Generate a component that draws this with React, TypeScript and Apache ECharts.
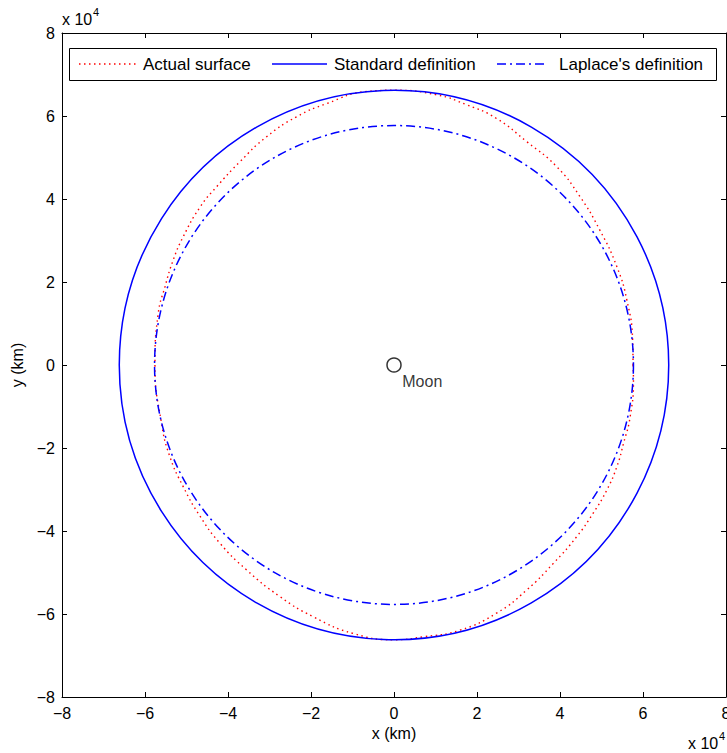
import React, { useEffect, useRef } from "react";
import * as echarts from "echarts";

// Axis range (km), shown in units of 10^4 km
const AXIS_MIN = -80000;
const AXIS_MAX = 80000;
const AXIS_STEP = 20000;
const AXIS_SCALE = 1e4;

// Sphere-of-influence radii (km)
const STANDARD_RADIUS_KM = 66200;
const LAPLACE_RADIUS_KM = 57700;

// Moon position (km)
const MOON_POS: [number, number] = [0, 0];

// Actual zero-velocity surface, traced counter-clockwise from +x (km)
const surfaceX = [
  57600, 57500, 56100, 53700, 49600, 44800, 39200, 32000, 24700, 17500, 10300, 0,
  -6600, -16200, -23500, -30700, -37100, -42700, -46700, -50800, -53200, -55200, -56800, -57600,
  -56000, -54000, -50800, -46700, -41900, -35500, -27500, -19400, -9800, 0,
  7100, 15900, 24700, 32000, 38400, 44000, 48000, 51300, 53700, 55300, 56900, 57700, 57600,
];
const surfaceY = [
  0, 6000, 15700, 23700, 32500, 40600, 47800, 53800, 59400, 62700, 65100, 66200,
  65900, 63000, 59800, 55000, 49000, 43000, 38100, 30900, 25300, 18800, 12500, 0,
  -14100, -22100, -29300, -36500, -43000, -49400, -55800, -60700, -64700, -66200,
  -65500, -63900, -59800, -54200, -47800, -41400, -35700, -30100, -24500, -18900, -12500, -3600, 0,
];

const SERIES_NAMES = ["Actual surface", "Standard definition", "Laplace's definition"];
const MOON_LABEL = "Moon";
const X_NAME = "x (km)";
const Y_NAME = "y (km)";
const EXP_BASE = "x 10";
const EXP_POWER = "4";

const FONT = '"Liberation Sans", Arial, Helvetica, sans-serif';
const RED = "#ff0000";
const BLUE = "#0000ff";
const DOTTED = [1.5, 3.5];
const DASH_DOT = [9, 4, 2, 4];

const tickFormatter = (v: number) => {
  const n = Math.round(v / AXIS_SCALE);
  return n < 0 ? "\u2212" + Math.abs(n) : String(n);
};

const circleRenderer = (stroke: string, lineDash?: number[]) => (params: any, api: any) => {
  const c = api.coord([api.value(0), api.value(1)]);
  const r = api.size([api.value(2), 0])[0];
  return {
    type: "circle",
    shape: { cx: c[0], cy: c[1], r },
    style: { fill: "none", stroke, lineWidth: 1.5, lineDash: lineDash || null },
  };
};

export default function App() {
  const ref = useRef<HTMLDivElement>(null);

  useEffect(() => {
    if (!ref.current) return;
    const chart = echarts.init(ref.current, undefined, { renderer: "svg" });

    const baseAxis = {
      type: "value" as const,
      min: AXIS_MIN,
      max: AXIS_MAX,
      interval: AXIS_STEP,
      splitLine: { show: false },
      axisLine: { show: true, onZero: false, lineStyle: { color: "#000", width: 1 } },
      axisTick: { show: true, inside: true, length: 5, lineStyle: { color: "#000", width: 1 } },
    };
    const labelStyle = { color: "#000", fontSize: 16, fontFamily: FONT, formatter: tickFormatter };
    const nameStyle = { color: "#000", fontSize: 16, fontFamily: FONT };

    const legendY = 64;
    const legendFont = 17;
    const legendItems = [
      { x1: 79, x2: 136, tx: 143, stroke: RED, dash: DOTTED, name: SERIES_NAMES[0] },
      { x1: 272, x2: 327, tx: 334, stroke: BLUE, dash: null, name: SERIES_NAMES[1] },
      { x1: 497, x2: 548, tx: 559, stroke: BLUE, dash: DASH_DOT, name: SERIES_NAMES[2] },
    ];

    chart.setOption({
      animation: false,
      backgroundColor: "#fff",
      grid: { left: 62, right: 1, top: 33, bottom: 56, containLabel: false, outerBoundsMode: "none" },
      xAxis: [
        {
          ...baseAxis,
          position: "bottom",
          axisLabel: { ...labelStyle, margin: 8 },
          name: X_NAME,
          nameLocation: "middle",
          nameGap: 28,
          nameTextStyle: nameStyle,
        },
        { ...baseAxis, position: "top", axisLabel: { show: false } },
      ],
      yAxis: [
        {
          ...baseAxis,
          position: "left",
          axisLabel: { ...labelStyle, margin: 7 },
          name: Y_NAME,
          nameLocation: "middle",
          nameGap: 34,
          nameRotate: 90,
          nameTextStyle: nameStyle,
        },
        { ...baseAxis, position: "right", axisLabel: { show: false } },
      ],
      series: [
        {
          type: "line",
          name: SERIES_NAMES[0],
          data: surfaceX.map((x, i) => [x, surfaceY[i]]),
          symbol: "none",
          smooth: 0.5,
          lineStyle: { color: RED, width: 1.4, type: DOTTED },
          z: 2,
        },
        {
          type: "custom",
          name: SERIES_NAMES[1],
          data: [[MOON_POS[0], MOON_POS[1], STANDARD_RADIUS_KM]],
          renderItem: circleRenderer(BLUE),
          clip: false,
          z: 3,
        },
        {
          type: "custom",
          name: SERIES_NAMES[2],
          data: [[MOON_POS[0], MOON_POS[1], LAPLACE_RADIUS_KM]],
          renderItem: circleRenderer(BLUE, DASH_DOT),
          clip: false,
          z: 4,
        },
        {
          type: "scatter",
          name: MOON_LABEL,
          data: [MOON_POS],
          symbol: "circle",
          symbolSize: 14,
          itemStyle: { color: "rgba(0,0,0,0)", borderColor: "#000", borderWidth: 1.5 },
          label: {
            show: true,
            formatter: MOON_LABEL,
            position: [16, 16],
            color: "#000",
            fontSize: 16,
            fontFamily: FONT,
          },
          z: 5,
        },
      ],
      graphic: [
        {
          type: "rect",
          shape: { x: 69.5, y: 48.5, width: 647, height: 32 },
          style: { fill: "#fff", stroke: "#000", lineWidth: 1 },
          z: 10,
        },
        ...legendItems.flatMap((it) => [
          {
            type: "line",
            shape: { x1: it.x1, y1: legendY, x2: it.x2, y2: legendY },
            style: { stroke: it.stroke, lineWidth: 1.5, lineDash: it.dash },
            z: 11,
          },
          {
            type: "text",
            x: it.tx,
            y: legendY,
            style: {
              text: it.name,
              fontSize: legendFont,
              fontFamily: FONT,
              fill: "#000",
              align: "left",
              verticalAlign: "middle",
            },
            z: 11,
          },
        ]),
        {
          type: "text",
          x: 62,
          y: 19,
          style: { text: EXP_BASE, fontSize: 16, fontFamily: FONT, fill: "#000", align: "left", verticalAlign: "middle" },
        },
        {
          type: "text",
          x: 93,
          y: 12,
          style: { text: EXP_POWER, fontSize: 11, fontFamily: FONT, fill: "#000", align: "left", verticalAlign: "middle" },
        },
        {
          type: "text",
          x: 688,
          y: 743,
          style: { text: EXP_BASE, fontSize: 16, fontFamily: FONT, fill: "#000", align: "left", verticalAlign: "middle" },
        },
        {
          type: "text",
          x: 719,
          y: 736,
          style: { text: EXP_POWER, fontSize: 11, fontFamily: FONT, fill: "#000", align: "left", verticalAlign: "middle" },
        },
      ],
    });

    return () => chart.dispose();
  }, []);

  return (
    <div
      ref={ref}
      style={{ position: "absolute", left: 0, top: 0, width: 727, height: 753, background: "#fff" }}
    />
  );
}
